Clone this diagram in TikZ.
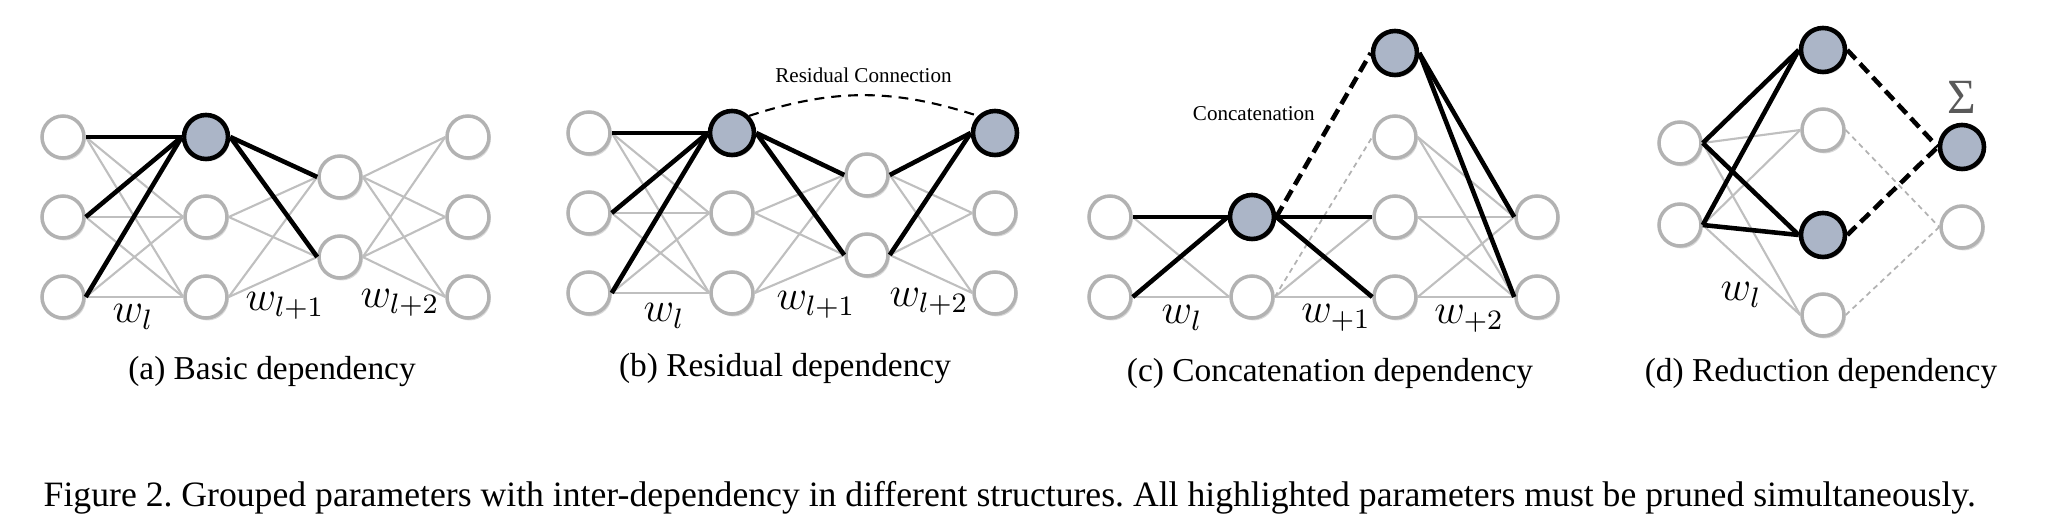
\documentclass[tikz,border=0pt]{standalone}
\usepackage{fontspec}
\setmainfont{Liberation Serif}
\usepackage{tikz}
\usetikzlibrary{
  positioning,
  shadows
}
\definecolor{keyfill}{RGB}{171,181,199}
\tikzset{
  neuron/.style={circle,draw=black!30,line width=1pt,fill=white,minimum size=0.42cm,inner sep=0pt,
    drop shadow={shadow xshift=0.5pt,shadow yshift=-0.7pt,opacity=0.3,fill=black!50}},
  keynode/.style={neuron,draw=black,line width=1.3pt,fill=keyfill,minimum size=0.44cm},
  wline/.style={draw=black!25,line width=0.6pt},
  keyline/.style={draw=black,line width=1.3pt},
  resline/.style={draw=black,line width=0.6pt,dash pattern=on 2.8pt off 2pt},
  catline/.style={draw=black,line width=1.3pt,dash pattern=on 3.5pt off 1.8pt},
  ghostline/.style={draw=black!30,line width=0.5pt,dash pattern=on 1.5pt off 1.2pt},
  wlab/.style={font=\fontsize{12}{12}\selectfont,inner sep=0pt},
  note/.style={font=\fontsize{6}{7}\selectfont},
  subcap/.style={font=\fontsize{9.5}{11}\selectfont,inner sep=0pt},
  figcap/.style={font=\fontsize{10.15}{12}\selectfont\frenchspacing,inner sep=0pt}
}

\begin{document}
\begin{tikzpicture}[node distance=0.8cm, on grid]
    \useasboundingbox (0,0) rectangle (20.48,-5.26);

    % (a) basic
    \node[neuron] (a11) at (0.63,-1.37) {};
    \node[neuron,below=of a11] (a12) {};
    \node[neuron,below=of a12] (a13) {};
    \node[keynode,right=1.43cm of a11] (a21) {};
    \node[neuron,below=of a21] (a22) {};
    \node[neuron,below=of a22] (a23) {};
    \node[neuron,right=1.34cm of a22,yshift=0.4cm] (a31) {};
    \node[neuron,below=of a31] (a32) {};
    \node[neuron,right=2.62cm of a21] (a41) {};
    \node[neuron,below=of a41] (a42) {};
    \node[neuron,below=of a42] (a43) {};

    \foreach \i in {1,2,3} \foreach \j in {1,2,3} \draw[wline] (a1\i.east) -- (a2\j.west);
    \foreach \i in {1,2,3} \foreach \j in {1,2} \draw[wline] (a2\i.east) -- (a3\j.west);
    \foreach \i in {1,2} \foreach \j in {1,2,3} \draw[wline] (a3\i.east) -- (a4\j.west);
    \foreach \i in {1,2,3} \draw[keyline] (a1\i.east) -- (a21.west);
    \foreach \j in {1,2} \draw[keyline] (a21.east) -- (a3\j.west);

    \node[wlab] (aw1) at (1.33,-3.17) {$w_l$};
    \node[wlab] (aw2) at (2.85,-3.06) {$w_{l+1}$};
    \node[wlab] (aw3) at (4.00,-3.03) {$w_{l+2}$};
    \node[subcap,anchor=base] (capa) at (2.72,-3.80) {(a) Basic dependency};

    % (b) residual
    \node[neuron] (b11) at (5.89,-1.33) {};
    \node[neuron,below=of b11] (b12) {};
    \node[neuron,below=of b12] (b13) {};
    \node[keynode,right=1.43cm of b11] (b21) {};
    \node[neuron,below=of b21] (b22) {};
    \node[neuron,below=of b22] (b23) {};
    \node[neuron,right=1.35cm of b22,yshift=0.38cm] (b31) {};
    \node[neuron,below=of b31] (b32) {};
    \node[keynode,right=2.63cm of b21] (b41) {};
    \node[neuron,below=of b41] (b42) {};
    \node[neuron,below=of b42] (b43) {};

    \foreach \i in {1,2,3} \foreach \j in {1,2,3} \draw[wline] (b1\i.east) -- (b2\j.west);
    \foreach \i in {1,2,3} \foreach \j in {1,2} \draw[wline] (b2\i.east) -- (b3\j.west);
    \foreach \i in {1,2} \foreach \j in {1,2,3} \draw[wline] (b3\i.east) -- (b4\j.west);
    \foreach \i in {1,2,3} \draw[keyline] (b1\i.east) -- (b21.west);
    \foreach \j in {1,2} \draw[keyline] (b21.east) -- (b3\j.west);
    \foreach \i in {1,2} \draw[keyline] (b3\i.east) -- (b41.west);
    \draw[resline] (b21.north east) to[bend left=18]
      node[midway,above=0pt,note] (resnote) {Residual Connection} (b41.north west);

    \node[wlab] (bw1) at (6.64,-3.16) {$w_l$};
    \node[wlab] (bw2) at (8.16,-3.05) {$w_{l+1}$};
    \node[wlab] (bw3) at (9.29,-3.02) {$w_{l+2}$};
    \node[subcap,anchor=base] (capb) at (7.85,-3.77) {(b) Residual dependency};

    % (c) concatenation
    \node[neuron] (c11) at (11.10,-2.17) {};
    \node[neuron,below=of c11] (c12) {};
    \node[keynode,right=1.42cm of c11] (c21) {};
    \node[neuron,below=of c21] (c22) {};
    \node[neuron,right=1.43cm of c21] (c33) {};
    \node[neuron,below=of c33] (c34) {};
    \node[neuron,above=of c33] (c32) {};
    \node[keynode,above=0.84cm of c32] (c31) {};
    \node[neuron,right=1.42cm of c33] (c41) {};
    \node[neuron,below=of c41] (c42) {};

    \foreach \i in {1,2} \draw[wline] (c1\i.east) -- (c22.west);
    \foreach \j in {3,4} \draw[wline] (c22.east) -- (c3\j.west);
    \draw[ghostline] (c22.east) -- (c32.west);
    \foreach \i in {2,3,4} \foreach \j in {1,2} \draw[wline] (c3\i.east) -- (c4\j.west);
    \foreach \i in {1,2} \draw[keyline] (c1\i.east) -- (c21.west);
    \foreach \j in {3,4} \draw[keyline] (c21.east) -- (c3\j.west);
    \draw[catline] (c21.east) -- node[pos=0.63,left=2pt,note] (catnote) {Concatenation} (c31.west);
    \foreach \j in {1,2} \draw[keyline] (c31.east) -- (c4\j.west);

    \node[wlab] (cw1) at (11.82,-3.18) {$w_l$};
    \node[wlab] (cw2) at (13.36,-3.18) {$w_{+1}$};
    \node[wlab] (cw3) at (14.69,-3.19) {$w_{+2}$};
    \node[subcap,anchor=base] (capc) at (13.30,-3.82) {(c) Concatenation dependency};

    % (d) reduction
    \node[neuron] (d11) at (16.80,-1.43) {};
    \node[neuron,below=0.82cm of d11] (d12) {};
    \node[neuron,right=1.43cm of d11,yshift=0.13cm] (d22) {};
    \node[keynode,above=of d22] (d21) {};
    \node[keynode,below=1.05cm of d22] (d23) {};
    \node[neuron,below=of d23] (d24) {};
    \node[keynode,right=1.39cm of d22,yshift=-0.17cm] (d31) {};
    \node[neuron,below=of d31] (d32) {};
    \node[above=0.5cm of d31,font=\fontsize{14}{14}\selectfont,text=black!65,inner sep=0pt] (dsum) {Σ};

    \foreach \i in {1,2} \foreach \j in {2,4} \draw[wline] (d1\i.east) -- (d2\j.west);
    \foreach \i in {1,2} \foreach \j in {1,3} \draw[keyline] (d1\i.east) -- (d2\j.west);
    \foreach \i in {2,4} \draw[ghostline] (d2\i.east) -- (d32.west);
    \foreach \i in {1,3} \draw[catline] (d2\i.east) -- (d31.west);

    \node[wlab] (dw1) at (17.41,-2.95) {$w_l$};
    \node[subcap,anchor=base] (capd) at (18.21,-3.82) {(d) Reduction dependency};

    \node[figcap,anchor=base west] (figcap) at (0.43,-5.07)
      {Figure 2. Grouped parameters with inter-dependency in different structures. All highlighted parameters must be pruned simultaneously.};
\end{tikzpicture}
\end{document}
